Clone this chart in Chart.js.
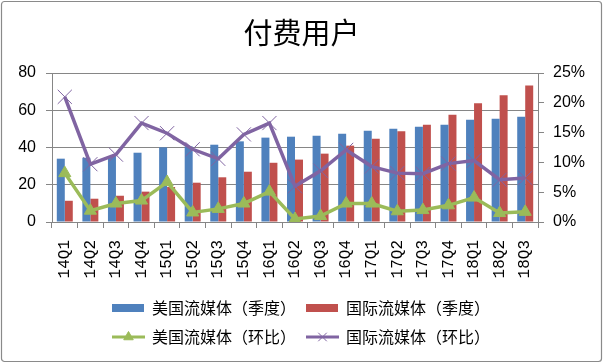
<!DOCTYPE html>
<html>
<head>
<meta charset="utf-8">
<script src="https://cdn.jsdelivr.net/npm/chart.js@4/dist/chart.umd.min.js"></script>
<style>
  html, body { margin: 0; padding: 0; background: #fff; }
  #wrap { width: 603px; height: 363px; position: relative; }
</style>
</head>
<body>
<div id="wrap"><canvas id="c" width="603" height="363"></canvas></div>
<script>
const categories = ['14Q1','14Q2','14Q3','14Q4','15Q1','15Q2','15Q3','15Q4','16Q1','16Q2','16Q3','16Q4','17Q1','17Q2','17Q3','17Q4','18Q1','18Q2','18Q3'];
const usQuarterly   = [34.0,34.5,35.4,37.2,40.1,40.6,41.5,43.3,45.3,45.8,46.3,47.4,49.0,50.1,51.2,52.2,54.9,55.5,56.5];
const intlQuarterly = [11.4,12.5,14.1,16.3,18.8,21.1,24.0,27.0,31.8,33.5,36.7,41.0,44.7,48.7,52.2,57.6,63.7,68.0,73.3];
const usQoQ   = [8.2,1.9,3.1,3.6,6.7,1.6,2.2,3.1,5.1,0.5,1.0,3.1,3.1,1.8,2.0,2.8,4.1,1.5,1.7];
const intlQoQ = [21.0,9.7,11.3,16.6,14.9,12.2,10.6,14.7,16.6,6.0,8.6,12.1,9.3,8.2,8.1,9.8,10.3,7.1,7.4];
const leftTicks = [0,20,40,60,80];
const rightTicks = [0,5,10,15,20,25];
const seriesNames = ['美国流媒体（季度）','国际流媒体（季度）','美国流媒体（环比）','国际流媒体（环比）'];
const titleText = '付费用户';

const GRID = '#868686';

const bgPlugin = {
  id: 'bg',
  beforeDraw(chart) {
    const ctx = chart.ctx;
    ctx.save();
    ctx.fillStyle = '#fff';
    ctx.fillRect(0, 0, chart.width, chart.height);
    ctx.restore();
  },
  afterDraw(chart) {
    const ctx = chart.ctx;
    ctx.save();
    ctx.strokeStyle = '#8a8a8a';
    ctx.lineWidth = 1.2;
    ctx.beginPath();
    if (ctx.roundRect) ctx.roundRect(1.5, 1.5, chart.width - 3, chart.height - 3, 3);
    else ctx.rect(1.5, 1.5, chart.width - 3, chart.height - 3);
    ctx.stroke();
    ctx.restore();
  }
};

const legendPlugin = {
  id: 'customLegend',
  afterDraw(chart) {
    const ctx = chart.ctx;
    const ds = chart.data.datasets;
    const slots = [
      {x: 112, y: 308}, {x: 306, y: 308},
      {x: 112, y: 337}, {x: 306, y: 337}
    ];
    ctx.save();
    ds.forEach((d, i) => {
      const s = slots[i];
      if (d.type === 'bar') {
        ctx.fillStyle = d.backgroundColor;
        ctx.fillRect(s.x, s.y - 4, 32, 8);
      } else {
        ctx.strokeStyle = d.borderColor;
        ctx.lineWidth = 3;
        ctx.beginPath();
        ctx.moveTo(s.x, s.y);
        ctx.lineTo(s.x + 33, s.y);
        ctx.stroke();
        ctx.fillStyle = d.pointBackgroundColor;
        ctx.strokeStyle = d.pointBorderColor;
        ctx.lineWidth = d.pointBorderWidth;
        Chart.helpers.drawPoint(ctx, {
          pointStyle: d.pointStyle,
          radius: d.pointStyle === 'triangle' ? 5.5 : 6,
          borderWidth: d.pointBorderWidth,
          rotation: 0
        }, s.x + 16.5, s.y);
      }
      ctx.fillStyle = '#000';
      ctx.font = '16px "Noto Sans CJK SC", sans-serif';
      ctx.textBaseline = 'middle';
      ctx.textAlign = 'left';
      ctx.fillText(d.label, s.x + 40, s.y);
    });
    ctx.restore();
  }
};

new Chart(document.getElementById('c'), {
  data: {
    labels: categories,
    datasets: [
      {
        type: 'bar', label: seriesNames[0], data: usQuarterly, yAxisID: 'y',
        backgroundColor: '#4F81BD', categoryPercentage: 0.625, barPercentage: 1, order: 2
      },
      {
        type: 'bar', label: seriesNames[1], data: intlQuarterly, yAxisID: 'y',
        backgroundColor: '#C0504D', categoryPercentage: 0.625, barPercentage: 1, order: 2
      },
      {
        type: 'line', label: seriesNames[2], data: usQoQ, yAxisID: 'y1',
        borderColor: '#9BBB59', borderWidth: 3.5, tension: 0,
        pointStyle: 'triangle', pointRadius: 7, pointBackgroundColor: '#9BBB59',
        pointBorderColor: '#9BBB59', pointBorderWidth: 1, order: 1
      },
      {
        type: 'line', label: seriesNames[3], data: intlQoQ, yAxisID: 'y1',
        borderColor: '#8064A2', borderWidth: 3.5, tension: 0,
        pointStyle: 'crossRot', pointRadius: 10, pointBackgroundColor: '#8064A2',
        pointBorderColor: '#8064A2', pointBorderWidth: 1, order: 0
      }
    ]
  },
  options: {
    responsive: false,
    animation: false,
    events: [],
    layout: { padding: 0 },
    plugins: {
      legend: { display: false },
      tooltip: { enabled: false },
      title: {
        display: true, text: titleText, color: '#000',
        font: { size: 29, family: '"Noto Sans CJK SC", sans-serif', weight: 'normal', lineHeight: 1.2 },
        padding: { top: 15.6, bottom: 22.6 }
      }
    },
    scales: {
      x: {
        offset: true,
        grid: { display: true, drawOnChartArea: false, drawTicks: true, tickLength: 6, color: GRID, offset: true },
        border: { display: true, color: GRID },
        ticks: {
          autoSkip: false, minRotation: 90, maxRotation: 90, padding: 12, color: '#000',
          font: { size: 16, family: '"Liberation Mono", monospace' }
        },
        afterFit(scale) { scale.height = 141; }
      },
      y: {
        position: 'left', min: 0, max: 80,
        afterBuildTicks(scale) { scale.ticks = leftTicks.map(v => ({ value: v })); },
        grid: { color: GRID, tickLength: 6, drawTicks: true },
        border: { display: true, color: GRID },
        ticks: { padding: 10, color: '#000', font: { size: 16, family: '"Liberation Sans", sans-serif' } },
        afterFit(scale) { scale.width = 52; }
      },
      y1: {
        position: 'right', min: 0, max: 25,
        afterBuildTicks(scale) { scale.ticks = rightTicks.map(v => ({ value: v })); },
        grid: { drawOnChartArea: false, color: GRID, tickLength: 6, drawTicks: true },
        border: { display: true, color: GRID },
        ticks: { padding: 9, color: '#000', font: { size: 16, family: '"Liberation Sans", sans-serif' },
          callback: v => v + '%' },
        afterFit(scale) { scale.width = 65; }
      }
    }
  },
  plugins: [bgPlugin, legendPlugin]
});
</script>
</body>
</html>
